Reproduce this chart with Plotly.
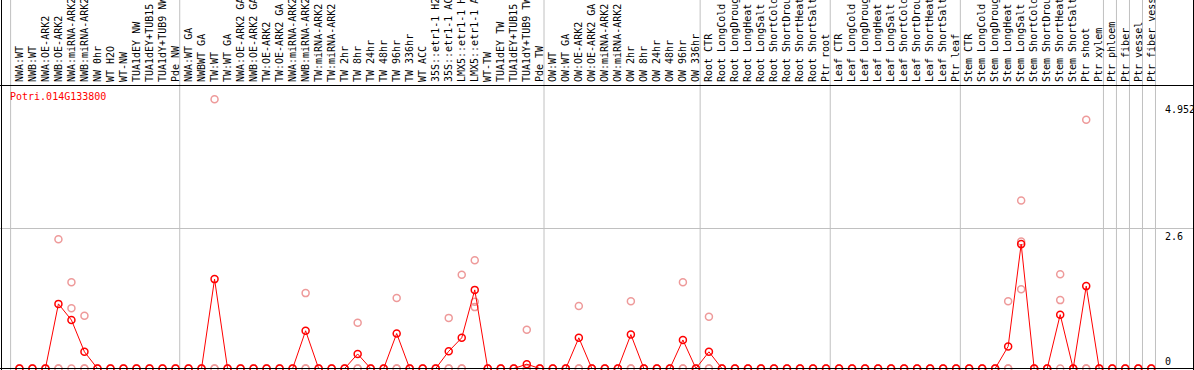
import plotly.graph_objects as go

# ---------------- data ----------------
labels = [
    # group 1
    "NWA:WT", "NWB:WT", "NWA:OE-ARK2", "NWB:OE-ARK2", "NWA:miRNA-ARK2", "NWB:miRNA-ARK2",
    "NW 0hr", "WT H2O", "WT-NW", "TUA1dEY NW", "TUA1dEY+TUB15 NW", "TUA1dY+TUB9 NW", "Pde NW",
    # group 2
    "NWA:WT GA", "NWBWT GA", "TW:WT", "TW:WT GA", "NWA:OE-ARK2 GA", "NWB:OE-ARK2 GA",
    "TW:OE-ARK2", "TW:OE-ARK2 GA", "NWA:miRNA-ARK2 GA", "NWB:miRNA-ARK2 GA", "TW:miRNA-ARK2",
    "TW:miRNA-ARK2 GA", "TW 2hr", "TW 8hr", "TW 24hr", "TW 48hr", "TW 96hr", "TW 336hr",
    "WT ACC", "35S::etr1-1 H2O", "35S::etr1-1 ACC", "LMX5::etr1-1 H2O", "LMX5::etr1-1 ACC",
    "WT-TW", "TUA1dEY TW", "TUA1dEY+TUB15 TW", "TUA1dY+TUB9 TW", "Pde TW",
    # group 3
    "OW:WT", "OW:WT GA", "OW:OE-ARK2", "OW:OE-ARK2 GA", "OW:miRNA-ARK2", "OW:miRNA-ARK2 GA",
    "OW 2hr", "OW 8hr", "OW 24hr", "OW 48hr", "OW 96hr", "OW 336hr",
    # group 4
    "Root CTR", "Root LongCold", "Root LongDrought", "Root LongHeat", "Root LongSalt",
    "Root ShortCold", "Root ShortDrought", "Root ShortHeat", "Root ShortSalt", "Ptr root",
    # group 5
    "Leaf CTR", "Leaf LongCold", "Leaf LongDrought", "Leaf LongHeat", "Leaf LongSalt",
    "Leaf ShortCold", "Leaf ShortDrought", "Leaf ShortHeat", "Leaf ShortSalt", "Ptr leaf",
    # group 6
    "Stem CTR", "Stem LongCold", "Stem LongDrought", "Stem LongHeat", "Stem LongSalt",
    "Stem ShortCold", "Stem ShortDrought", "Stem ShortHeat", "Stem ShortSalt", "Ptr shoot",
    "Ptr xylem",
    # singles
    "Ptr phloem", "Ptr fiber", "Ptr vessel", "Ptr fiber vessel",
]
group_sizes = [13, 28, 12, 10, 10, 11, 1, 1, 1, 1]

mean_values = [
    0, 0, 0, 1.20, 0.90, 0.31, 0, 0, 0, 0,
    0, 0, 0, 0, 0, 1.66, 0, 0, 0, 0,
    0, 0, 0.70, 0, 0, 0, 0.27, 0, 0, 0.65,
    0, 0, 0, 0.32, 0.57, 1.46, 0, 0, 0, 0.08,
    0, 0, 0, 0.57, 0, 0, 0, 0.63, 0, 0,
    0, 0.53, 0, 0.31, 0, 0, 0, 0, 0, 0,
    0, 0, 0, 0, 0, 0, 0, 0, 0, 0,
    0, 0, 0, 0, 0, 0, 0.41, 2.31, 0, 0,
    1.00, 0, 1.53, 0, 0, 0, 0, 0,
]
rep1 = [
    0, 0, 0, 2.40, 1.60, 0.98, 0, 0, 0, 0,
    0, 0, 0, 0, 0, 5.00, 0, 0, 0, 0,
    0, 0, 1.40, 0, 0, 0, 0.85, 0, 0, 1.31,
    0, 0, 0, 0.94, 1.74, 2.01, 0, 0, 0, 0.72,
    0, 0, 0, 1.16, 0, 0, 0, 1.25, 0, 0,
    0, 1.60, 0, 0.96, 0, 0, 0, 0, 0, 0,
    0, 0, 0, 0, 0, 0, 0, 0, 0, 0,
    0, 0, 0, 0, 0, 0, 1.25, 3.12, 0, 0,
    1.75, 0, 4.62, 0, 0, 0, 0, 0,
]
rep2 = [
    0, 0, 0, 0, 1.12, 0, 0, 0, 0, 0,
    0, 0, 0, 0, 0, 0, 0, 0, 0, 0,
    0, 0, 0, 0, 0, 0, 0, 0, 0, 0,
    0, 0, 0, 0, 0, 1.24, 0, 0, 0, 0,
    0, 0, 0, 0, 0, 0, 0, 0, 0, 0,
    0, 0, 0, 0, 0, 0, 0, 0, 0, 0,
    0, 0, 0, 0, 0, 0, 0, 0, 0, 0,
    0, 0, 0, 0, 0, 0, 0, 2.36, 0, 0,
    1.27, 0, 0, 0, 0, 0, 0, 0,
]
rep3 = [
    0, 0, 0, 0, 0, 0, 0, 0, 0, 0,
    0, 0, 0, 0, 0, 0, 0, 0, 0, 0,
    0, 0, 0, 0, 0, 0, 0, 0, 0, 0,
    0, 0, 0, 0, 0, 1.14, 0, 0, 0, 0,
    0, 0, 0, 0, 0, 0, 0, 0, 0, 0,
    0, 0, 0, 0, 0, 0, 0, 0, 0, 0,
    0, 0, 0, 0, 0, 0, 0, 0, 0, 0,
    0, 0, 0, 0, 0, 0, 0, 1.47, 0, 0,
    0, 0, 0, 0, 0, 0, 0, 0,
]
gene_id = "Potri.014G133800"
axis_ticks = [("4.952", 4.952, "top"), ("2.6", 2.6, "top"), ("0", 0, "bottom")]

# ---------------- geometry ----------------
W, H = 1194, 370
TOP = 85
PLOT_H = H - TOP
COL_PX = 13.01
FIRST_PX = 19.4
PX_PER_UNIT = 53.846
ZERO_PX = 368.5

x_idx = list(range(len(labels)))
x0 = -FIRST_PX / COL_PX
x1 = x0 + W / COL_PX
y1 = (ZERO_PX - TOP) / PX_PER_UNIT
y0 = -(H - ZERO_PX) / PX_PER_UNIT
BOUND_OFF = (FIRST_PX - 10.6) / COL_PX

MONO = "DejaVu Sans Mono"
RED = "#FF0000"
PINK = "#EE9A9A"
GRID = "#C0C0C0"

fig = go.Figure()
for reps in (rep3, rep2, rep1):
    fig.add_trace(go.Scatter(
        x=x_idx, y=reps, mode="markers",
        marker=dict(symbol="circle-open", size=7, color=PINK, line=dict(width=1.5, color=PINK)),
        cliponaxis=False, showlegend=False, hoverinfo="skip"))
fig.add_trace(go.Scatter(
    x=x_idx, y=mean_values, mode="lines+markers",
    line=dict(color=RED, width=1),
    marker=dict(symbol="circle-open", size=7, color=RED, line=dict(width=1.5, color=RED)),
    cliponaxis=False, showlegend=False))

shapes = []
# group boundaries
starts = [0]
for g in group_sizes:
    starts.append(starts[-1] + g)
for s in starts:
    shapes.append(dict(type="line", xref="x", yref="paper", x0=s - BOUND_OFF, x1=s - BOUND_OFF,
                       y0=0, y1=1 + TOP / PLOT_H, line=dict(color=GRID, width=1), layer="below"))
# horizontal grid at 2.6
shapes.append(dict(type="line", xref="paper", yref="y", x0=0, x1=1193 / W, y0=2.6, y1=2.6,
                   line=dict(color=GRID, width=1), layer="below"))
# black frame lines
shapes.append(dict(type="line", xref="paper", yref="y", x0=0, x1=1, y0=0, y1=0,
                   line=dict(color="black", width=1), layer="above"))
shapes.append(dict(type="line", xref="paper", yref="paper", x0=0, x1=1,
                   y0=1 - 0.5 / PLOT_H, y1=1 - 0.5 / PLOT_H,
                   line=dict(color="black", width=1), layer="above"))
shapes.append(dict(type="line", xref="paper", yref="paper", x0=1.5 / W, x1=1.5 / W,
                   y0=0, y1=1 + TOP / PLOT_H, line=dict(color="black", width=1), layer="above"))
shapes.append(dict(type="line", xref="paper", yref="paper", x0=1193.5 / W, x1=1193.5 / W,
                   y0=0, y1=1 + TOP / PLOT_H, line=dict(color="black", width=1), layer="above"))

annotations = [dict(text=gene_id, xref="paper", yref="paper", x=8 / W, y=1 - (96 - TOP) / PLOT_H,
                    xanchor="left", yanchor="middle", showarrow=False,
                    font=dict(family=MONO, size=10, color=RED))]
for txt, val, anc in axis_ticks:
    annotations.append(dict(text=txt, xref="paper", yref="y", x=1163 / W, y=val,
                            xanchor="left", yanchor=anc, showarrow=False,
                            font=dict(family=MONO, size=10, color="black")))

fig.update_layout(
    width=W, height=H,
    margin=dict(l=0, r=0, t=TOP, b=0, pad=0, autoexpand=False),
    paper_bgcolor="white", plot_bgcolor="white",
    shapes=shapes, annotations=annotations,
    xaxis=dict(range=[x0, x1], side="top", tickmode="array", tickvals=x_idx, ticktext=labels,
               tickangle=-90, tickfont=dict(family=MONO, size=10, color="black"),
               ticks="", ticklabelstandoff=2,
               showgrid=False, zeroline=False, showline=False, fixedrange=True,
               automargin=False),
    yaxis=dict(range=[y0, y1], visible=False, showgrid=False, zeroline=False, fixedrange=True,
               automargin=False),
)

fig.write_html("out.html", config={"displayModeBar": False},
               post_script="document.body.style.margin='0';document.body.style.overflow='hidden';")
